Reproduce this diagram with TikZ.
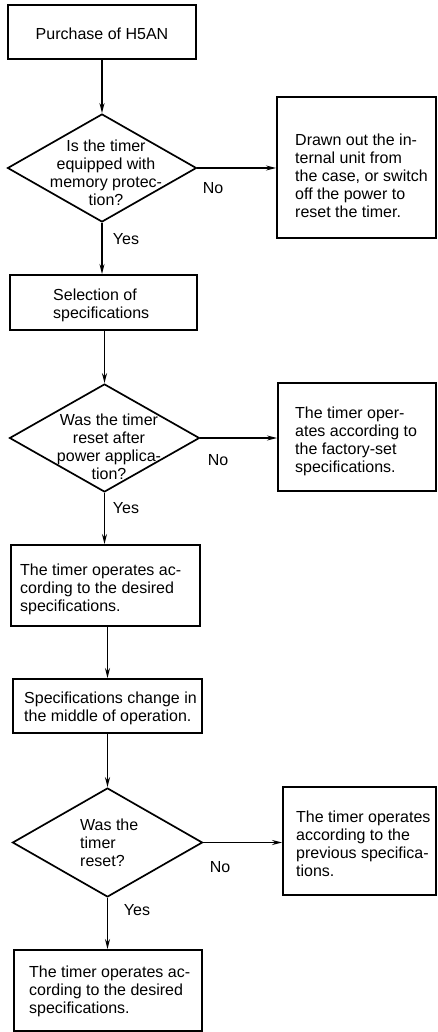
\documentclass[tikz,border=0pt]{standalone}
\usepackage{fontspec}
\setmainfont{Liberation Sans}
\usetikzlibrary{shapes.geometric,arrows.meta}
\tikzset{
  box/.style={draw, line width=1.9pt, minimum width=#1, inner sep=0pt},
  dia/.style={draw, diamond, line width=1.7pt, inner sep=0pt},
  txt/.style={font=\fontsize{16}{18}\selectfont, inner sep=0pt},
  arr/.style={line width=1.7pt, -{Stealth[length=10pt,width=5pt]}},
}
\begin{document}
\begin{tikzpicture}[x=1pt,y=-1pt]
\useasboundingbox (0,0) rectangle (437,1032);
% boxes
\node[box=188pt, minimum height=54pt] (b1) at (102,32) {};
\node[dia, minimum width=189pt, minimum height=108pt, aspect=1.75] (d1) at (102,168) {};
\node[box=159pt, minimum height=141pt] (b2) at (356.5,167.5) {};
\node[box=187pt, minimum height=55pt] (b3) at (103.5,302.5) {};
\node[dia, minimum width=190pt, minimum height=108pt, aspect=1.76] (d2) at (104.5,438) {};
\node[box=158pt, minimum height=108pt] (b4) at (357,437) {};
\node[box=189pt, minimum height=81pt] (b5) at (105.5,585.5) {};
\node[box=189pt, minimum height=54pt] (b6) at (107.5,706) {};
\node[dia, minimum width=190pt, minimum height=109pt, aspect=1.74] (d3) at (107.5,842.5) {};
\node[box=153pt, minimum height=108pt] (b7) at (359.5,841) {};
\node[box=188pt, minimum height=81pt] (b8) at (108,990.5) {};
% texts
\node[txt] (t1) at (102,34) {Purchase of H5AN};
\node[txt, align=center] (td1) at (106,173) {Is the timer\\equipped with\\memory protec-\\tion?};
\node[txt, align=left, anchor=west] (tb2) at (295,176) {Drawn out the in-\\ternal unit from\\the case, or switch\\off the power to\\reset the timer.};
\node[txt, align=left, anchor=west] (tb3) at (53,305) {Selection of\\specifications};
\node[txt, align=center] (td2) at (109,446.5) {Was the timer\\reset after\\power applica-\\tion?};
\node[txt, align=left, anchor=west] (tb4) at (295,441.5) {The timer oper-\\ates according to\\the factory-set\\specifications.};
\node[txt, align=left, anchor=west] (tb5) at (20,589.5) {The timer operates ac-\\cording to the desired\\specifications.};
\node[txt, align=left, anchor=west] (tb6) at (24,708.5) {Specifications change in\\the middle of operation.};
\node[txt, align=left, anchor=west] (td3) at (80,843) {Was the\\timer\\reset?};
\node[txt, align=left, anchor=west] (tb7) at (296,844) {The timer operates\\according to the\\previous specifica-\\tions.};
\node[txt, align=left, anchor=west] (tb8) at (29,991) {The timer operates ac-\\cording to the desired\\specifications.};
% labels
\node[txt] (no1) at (213,188) {No};
\node[txt] (yes1) at (126,239) {Yes};
\node[txt] (no2) at (218,460) {No};
\node[txt] (yes2) at (126,508) {Yes};
\node[txt] (no3) at (220,867) {No};
\node[txt] (yes3) at (137,910) {Yes};
% connectors
\draw[arr] (b1.south -| d1.north) -- (d1.north);
\draw[arr] (d1.east) -- (d1.east -| b2.west);
\draw[arr] (d1.south) -- (d1.south |- b3.north);
\draw[arr] (b3.south -| d2.north) -- (d2.north);
\draw[arr] (d2.east) -- (d2.east -| b4.west);
\draw[arr] (d2.south) -- (d2.south |- b5.north);
\draw[arr] (b5.south -| b6.north) -- (b6.north);
\draw[arr] (b6.south -| d3.north) -- (d3.north);
\draw[arr] (d3.east) -- (d3.east -| b7.west);
\draw[arr] (d3.south) -- (d3.south |- b8.north);
\end{tikzpicture}
\end{document}
